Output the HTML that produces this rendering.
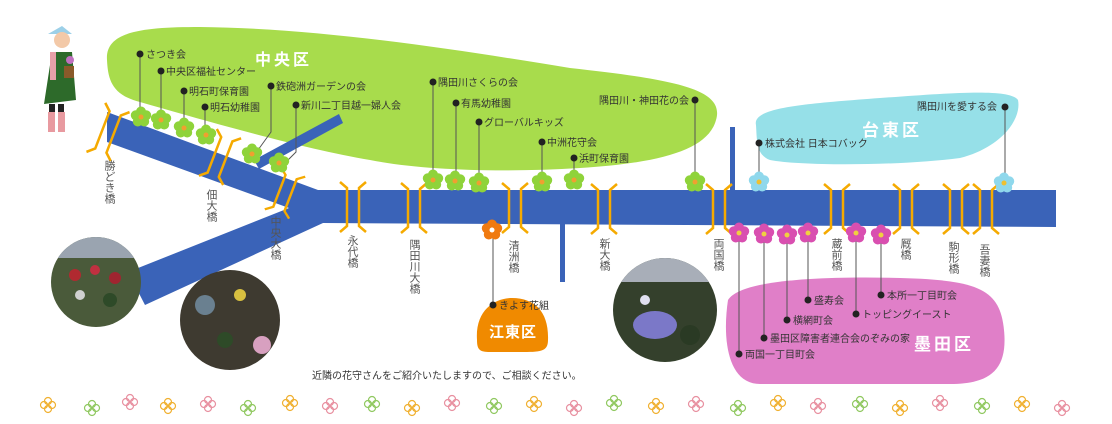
<!DOCTYPE html>
<html><head><meta charset="utf-8"><style>
html,body{margin:0;padding:0;background:#fff;}
svg{display:block;font-family:"Liberation Sans","Noto Sans CJK JP",sans-serif;}
.l{font-size:10px;fill:#333;}
.v{font-size:11px;fill:#555;writing-mode:vertical-rl;glyph-orientation-vertical:0;}
.ln{stroke:#555;stroke-width:1;fill:none;}
</style></head><body>
<svg width="1112" height="424" viewBox="0 0 1112 424" xmlns="http://www.w3.org/2000/svg">
<defs>
 <g id="fg"><circle cx="0" cy="-5.5" r="5" fill="#8fd33a"/><circle cx="5.2" cy="-1.7" r="5" fill="#8fd33a"/><circle cx="3.2" cy="4.5" r="5" fill="#8fd33a"/><circle cx="-3.2" cy="4.5" r="5" fill="#8fd33a"/><circle cx="-5.2" cy="-1.7" r="5" fill="#8fd33a"/><circle r="2.5" fill="#f0a030"/></g>
 <g id="fc"><circle cx="0" cy="-5.5" r="5" fill="#8fd8ec"/><circle cx="5.2" cy="-1.7" r="5" fill="#8fd8ec"/><circle cx="3.2" cy="4.5" r="5" fill="#8fd8ec"/><circle cx="-3.2" cy="4.5" r="5" fill="#8fd8ec"/><circle cx="-5.2" cy="-1.7" r="5" fill="#8fd8ec"/><circle r="2.5" fill="#f0c030"/></g>
 <g id="fp"><circle cx="0" cy="-5.5" r="5" fill="#d94fb0"/><circle cx="5.2" cy="-1.7" r="5" fill="#d94fb0"/><circle cx="3.2" cy="4.5" r="5" fill="#d94fb0"/><circle cx="-3.2" cy="4.5" r="5" fill="#d94fb0"/><circle cx="-5.2" cy="-1.7" r="5" fill="#d94fb0"/><circle r="2.5" fill="#f0d040"/></g>
 <g id="fo"><circle cx="0" cy="-5.5" r="5" fill="#f07a10"/><circle cx="5.2" cy="-1.7" r="5" fill="#f07a10"/><circle cx="3.2" cy="4.5" r="5" fill="#f07a10"/><circle cx="-3.2" cy="4.5" r="5" fill="#f07a10"/><circle cx="-5.2" cy="-1.7" r="5" fill="#f07a10"/><circle r="2.5" fill="#fff"/></g>
 <g id="br" fill="none" stroke="#f5aa00" stroke-width="2.5"><path d="M-13,-25 L-6,-19 L-6,19 L-13,25"/><path d="M13,-25 L6,-19 L6,19 L13,25"/></g>
 <g id="sf" fill="none" stroke-width="1.2"><circle cx="0" cy="-4" r="3.5"/><circle cx="4" cy="0" r="3.5"/><circle cx="0" cy="4" r="3.5"/><circle cx="-4" cy="0" r="3.5"/></g>
 <clipPath id="c1"><circle cx="96" cy="282" r="45"/></clipPath>
 <clipPath id="c2"><circle cx="230" cy="320" r="50"/></clipPath>
 <clipPath id="c3"><circle cx="665" cy="310" r="52"/></clipPath>
</defs>

<path d="M107,60 C105,32 140,27 200,27 C320,28 460,50 570,68 C680,80 725,90 716,120 C708,150 660,163 580,168 C500,173 420,170 370,160 C300,148 210,122 140,102 C112,95 108,80 107,60 Z" fill="#a8dc4c"/>
<path d="M756,125 C752,108 800,104 880,98 C950,93 1010,88 1018,100 C1022,120 1000,148 960,158 C900,166 800,166 770,160 C756,155 757,140 756,125 Z" fill="#96e0e8"/>
<path d="M728,300 C740,280 820,276 900,278 C980,280 1000,290 1004,330 C1008,370 990,384 950,384 L760,384 C728,384 722,340 728,300 Z" fill="#e07fc8"/>
<path d="M477,340 C475,310 495,298 512,298 C535,298 549,312 548,340 C548,352 540,352 520,352 L490,352 C480,352 477,350 477,340 Z" fill="#f08a00"/>

<g fill="#3a63b8">
 <polygon points="107,112 318,190 1056,190 1056,227 323,223 145,305 128,272 289,208 107,142"/>
 <polygon points="254,160 339,114 343,123 259,169"/>
 <rect x="730" y="127" width="5" height="65"/>
 <rect x="560" y="222" width="5" height="60"/>
</g>

<use href="#br" transform="translate(108,132) rotate(21) scale(1,1.05)"/>
<use href="#br" transform="translate(220,157) rotate(21)"/>
<use href="#br" transform="translate(285,193) rotate(21) scale(1,0.9)"/>
<use href="#br" x="353" y="207"/>
<use href="#br" x="414" y="208"/>
<use href="#br" x="515" y="208"/>
<use href="#br" x="604" y="209"/>
<use href="#br" x="719" y="209"/>
<use href="#br" x="837" y="209"/>
<use href="#br" x="906" y="209"/>
<use href="#br" x="956" y="209"/>
<use href="#br" x="986" y="209"/>

<text class="v" x="109" y="160">勝どき橋</text>
<text class="v" x="211" y="189">佃大橋</text>
<text class="v" x="275" y="216">中央大橋</text>
<text class="v" x="352" y="235">永代橋</text>
<text class="v" x="414" y="239">隅田川大橋</text>
<text class="v" x="513" y="240">清洲橋</text>
<text class="v" x="604" y="238">新大橋</text>
<text class="v" x="718" y="238">両国橋</text>
<text class="v" x="836" y="238">蔵前橋</text>
<text class="v" x="905" y="238">厩橋</text>
<text class="v" x="953" y="241">駒形橋</text>
<text class="v" x="984" y="244">吾妻橋</text>

<g class="ln">
 <path d="M140,54 V114"/><path d="M161,71 V118"/><path d="M184,91 V124"/><path d="M205,107 V132"/>
 <path d="M271,86 V132 L258,150"/><path d="M296,105 V152 L284,164"/>
 <path d="M433,82 V176"/><path d="M456,103 V177"/><path d="M479,122 V179"/><path d="M542,142 V178"/><path d="M574,158 V177"/>
 <path d="M695,100 V178"/><path d="M759,143 V178"/><path d="M1005,107 V179"/>
 <path d="M493,234 V305"/>
 <path d="M739,236 V354"/><path d="M764,237 V338"/><path d="M787,238 V320"/><path d="M808,236 V300"/><path d="M856,236 V314"/><path d="M881,236 V295"/>
</g>
<g fill="#222">
 <circle cx="140" cy="54" r="3.5"/><circle cx="161" cy="71" r="3.5"/><circle cx="184" cy="91" r="3.5"/><circle cx="205" cy="107" r="3.5"/>
 <circle cx="271" cy="86" r="3.5"/><circle cx="296" cy="105" r="3.5"/><circle cx="433" cy="82" r="3.5"/><circle cx="456" cy="103" r="3.5"/>
 <circle cx="479" cy="122" r="3.5"/><circle cx="542" cy="142" r="3.5"/><circle cx="574" cy="158" r="3.5"/><circle cx="695" cy="100" r="3.5"/>
 <circle cx="759" cy="143" r="3.5"/><circle cx="1005" cy="107" r="3.5"/><circle cx="493" cy="305" r="3.5"/>
 <circle cx="739" cy="354" r="3.5"/><circle cx="764" cy="338" r="3.5"/><circle cx="787" cy="320" r="3.5"/><circle cx="808" cy="300" r="3.5"/><circle cx="856" cy="314" r="3.5"/><circle cx="881" cy="295" r="3.5"/>
</g>

<use href="#fg" x="141" y="117"/><use href="#fg" x="161" y="120"/><use href="#fg" x="184" y="128"/><use href="#fg" x="206" y="135"/>
<use href="#fg" x="252" y="154"/><use href="#fg" x="279" y="163"/><use href="#fg" x="433" y="180"/><use href="#fg" x="455" y="181"/>
<use href="#fg" x="479" y="183"/><use href="#fg" x="542" y="182"/><use href="#fg" x="574" y="180"/><use href="#fg" x="695" y="182"/>
<use href="#fc" x="759" y="182"/><use href="#fc" x="1004" y="183"/>
<use href="#fp" x="739" y="233"/><use href="#fp" x="764" y="234"/><use href="#fp" x="787" y="235"/><use href="#fp" x="808" y="233"/><use href="#fp" x="856" y="233"/><use href="#fp" x="881" y="235"/>
<use href="#fo" x="492" y="230"/>

<g class="l">
 <text x="146" y="58">さつき会</text><text x="166" y="75">中央区福祉センター</text><text x="189" y="95">明石町保育園</text><text x="210" y="111">明石幼稚園</text>
 <text x="276" y="90">鉄砲洲ガーデンの会</text><text x="301" y="109">新川二丁目越一婦人会</text>
 <text x="438" y="86">隅田川さくらの会</text><text x="461" y="107">有馬幼稚園</text><text x="484" y="126">グローバルキッズ</text><text x="547" y="146">中洲花守会</text><text x="579" y="162">浜町保育園</text>
 <text x="689" y="104" text-anchor="end">隅田川・神田花の会</text>
 <text x="765" y="147">株式会社 日本コバック</text><text x="997" y="110" text-anchor="end">隅田川を愛する会</text>
 <text x="499" y="309">きよす花組</text>
 <text x="745" y="358">両国一丁目町会</text><text x="770" y="342">墨田区障害者連合会のぞみの家</text><text x="793" y="324">横網町会</text><text x="814" y="304">盛寿会</text><text x="862" y="318">トッピングイースト</text><text x="887" y="299">本所一丁目町会</text>
 <text x="312" y="379">近隣の花守さんをご紹介いたしますので、ご相談ください。</text>
</g>
<g fill="#fff" font-weight="bold" letter-spacing="3">
 <text x="255" y="65" font-size="16">中央区</text>
 <text x="862" y="136" font-size="17">台東区</text>
 <text x="914" y="350" font-size="17">墨田区</text>
 <text x="489" y="337" font-size="15" letter-spacing="1">江東区</text>
</g>

<g clip-path="url(#c1)">
 <rect x="50" y="236" width="95" height="95" fill="#4a5a3a"/>
 <rect x="50" y="236" width="95" height="22" fill="#9aa4b0"/>
 <circle cx="75" cy="275" r="6" fill="#b02a30"/><circle cx="95" cy="270" r="5" fill="#c03040"/><circle cx="115" cy="278" r="6" fill="#a02530"/><circle cx="80" cy="295" r="5" fill="#d0d0d0"/><circle cx="110" cy="300" r="7" fill="#2e4a28"/>
</g>
<g clip-path="url(#c2)">
 <rect x="178" y="268" width="105" height="105" fill="#3e3a30"/>
 <circle cx="205" cy="305" r="10" fill="#6a8090"/><circle cx="240" cy="295" r="6" fill="#d8c040"/><circle cx="262" cy="345" r="9" fill="#d8a0c0"/><circle cx="225" cy="340" r="8" fill="#2e4a28"/>
</g>
<g clip-path="url(#c3)">
 <rect x="610" y="256" width="110" height="110" fill="#34402c"/>
 <rect x="610" y="256" width="110" height="26" fill="#a8aeb8"/>
 <ellipse cx="655" cy="325" rx="22" ry="14" fill="#7b78c8"/><circle cx="645" cy="300" r="5" fill="#e0e0f0"/><circle cx="690" cy="335" r="10" fill="#2a3a24"/>
</g>

<g>
 <path d="M48,34 L62,26 L72,34 Z" fill="#9cd0e8"/>
 <circle cx="62" cy="40" r="8" fill="#f3c9a8"/>
 <path d="M52,52 L72,52 L76,100 L44,104 Z" fill="#2d6a2a"/>
 <rect x="50" y="52" width="6" height="28" fill="#e8a0a8"/>
 <rect x="64" y="66" width="10" height="12" fill="#8a5a2a"/>
 <circle cx="70" cy="60" r="4" fill="#c070c0"/>
 <rect x="49" y="104" width="6" height="10" fill="#222"/><rect x="58" y="104" width="6" height="10" fill="#222"/>
 <rect x="48" y="112" width="7" height="20" fill="#e89aa0"/><rect x="58" y="112" width="7" height="20" fill="#e89aa0"/>
</g>

<g>
 <use href="#sf" x="48" y="405" stroke="#f0b030"/><use href="#sf" x="92" y="408" stroke="#90c860"/><use href="#sf" x="130" y="402" stroke="#e890a0"/><use href="#sf" x="168" y="406" stroke="#f0b030"/>
 <use href="#sf" x="208" y="404" stroke="#e890a0"/><use href="#sf" x="248" y="408" stroke="#90c860"/><use href="#sf" x="290" y="403" stroke="#f0b030"/><use href="#sf" x="330" y="406" stroke="#e890a0"/>
 <use href="#sf" x="372" y="404" stroke="#90c860"/><use href="#sf" x="412" y="408" stroke="#f0b030"/><use href="#sf" x="452" y="403" stroke="#e890a0"/><use href="#sf" x="494" y="406" stroke="#90c860"/>
 <use href="#sf" x="534" y="404" stroke="#f0b030"/><use href="#sf" x="574" y="408" stroke="#e890a0"/><use href="#sf" x="614" y="403" stroke="#90c860"/><use href="#sf" x="656" y="406" stroke="#f0b030"/>
 <use href="#sf" x="696" y="404" stroke="#e890a0"/><use href="#sf" x="738" y="408" stroke="#90c860"/><use href="#sf" x="778" y="403" stroke="#f0b030"/><use href="#sf" x="818" y="406" stroke="#e890a0"/>
 <use href="#sf" x="860" y="404" stroke="#90c860"/><use href="#sf" x="900" y="408" stroke="#f0b030"/><use href="#sf" x="940" y="403" stroke="#e890a0"/><use href="#sf" x="982" y="406" stroke="#90c860"/>
 <use href="#sf" x="1022" y="404" stroke="#f0b030"/><use href="#sf" x="1062" y="408" stroke="#e890a0"/>
</g>
</svg>
</body></html>
